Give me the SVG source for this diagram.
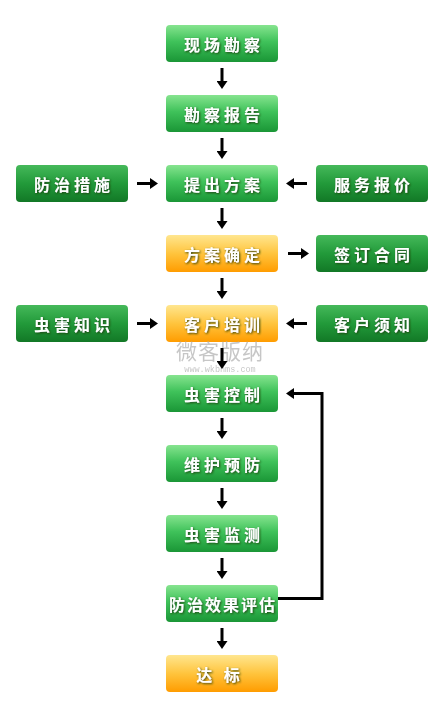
<svg xmlns="http://www.w3.org/2000/svg" width="438" height="708" viewBox="0 0 438 708">
<defs>
<linearGradient id="gc" x1="0" y1="0" x2="0" y2="1">
<stop offset="0" stop-color="#86e48f"/><stop offset="0.45" stop-color="#3fc25a"/><stop offset="1" stop-color="#1a9636"/>
</linearGradient>
<linearGradient id="gs" x1="0" y1="0" x2="0" y2="1">
<stop offset="0" stop-color="#45b95a"/><stop offset="0.5" stop-color="#229a3a"/><stop offset="1" stop-color="#127826"/>
</linearGradient>
<linearGradient id="go" x1="0" y1="0" x2="0" y2="1">
<stop offset="0" stop-color="#ffe68f"/><stop offset="0.5" stop-color="#ffc43d"/><stop offset="1" stop-color="#ff9c00"/>
</linearGradient>
<filter id="ts" x="-20%" y="-40%" width="140%" height="180%">
<feDropShadow dx="1" dy="1" stdDeviation="0.8" flood-color="#1a3a10" flood-opacity="0.9"/>
</filter>
<marker id="ah" viewBox="0 0 8 11" refX="2" refY="5.5" markerWidth="8" markerHeight="11" orient="auto" markerUnits="userSpaceOnUse">
<path d="M0,0 L8,5.5 L0,11 z" fill="#000"/>
</marker>
</defs>
<style>
.c{fill:url(#gc)}
.s{fill:url(#gs)}
.o{fill:url(#go)}
text.t{font-family:"Noto Sans CJK SC","Noto Sans CJK JP",sans-serif;font-size:16px;font-weight:bold;fill:#fff;text-anchor:middle;dominant-baseline:central;letter-spacing:4px;filter:url(#ts)}
.cn path{fill:none;stroke:#000;stroke-width:3;marker-end:url(#ah)}
</style>
<rect width="438" height="708" fill="#fff"/>

<g id="n1"><rect class="c" x="166" y="25" width="112" height="37" rx="4"/><text class="t" x="224" y="43.5">现场勘察</text></g>
<g id="n2"><rect class="c" x="166" y="95" width="112" height="37" rx="4"/><text class="t" x="224" y="113.5">勘察报告</text></g>
<g id="n3"><rect class="c" x="166" y="165" width="112" height="37" rx="4"/><text class="t" x="224" y="183.5">提出方案</text></g>
<g id="n3l"><rect class="s" x="16" y="165" width="112" height="37" rx="4"/><text class="t" x="74" y="183.5">防治措施</text></g>
<g id="n3r"><rect class="s" x="316" y="165" width="112" height="37" rx="4"/><text class="t" x="374" y="183.5">服务报价</text></g>
<g id="n4"><rect class="o" x="166" y="235" width="112" height="37" rx="4"/><text class="t" x="224" y="253.5">方案确定</text></g>
<g id="n4r"><rect class="s" x="316" y="235" width="112" height="37" rx="4"/><text class="t" x="374" y="253.5">签订合同</text></g>
<g id="n5"><rect class="o" x="166" y="305" width="112" height="37" rx="4"/><text class="t" x="224" y="323.5">客户培训</text></g>
<g id="n5l"><rect class="s" x="16" y="305" width="112" height="37" rx="4"/><text class="t" x="74" y="323.5">虫害知识</text></g>
<g id="n5r"><rect class="s" x="316" y="305" width="112" height="37" rx="4"/><text class="t" x="374" y="323.5">客户须知</text></g>
<g id="n6"><rect class="c" x="166" y="375" width="112" height="37" rx="4"/><text class="t" x="224" y="393.5">虫害控制</text></g>
<g id="n7"><rect class="c" x="166" y="445" width="112" height="37" rx="4"/><text class="t" x="224" y="463.5">维护预防</text></g>
<g id="n8"><rect class="c" x="166" y="515" width="112" height="37" rx="4"/><text class="t" x="224" y="533.5">虫害监测</text></g>
<g id="n9"><rect class="c" x="166" y="585" width="112" height="37" rx="4"/><text class="t" x="223" y="603.5" style="letter-spacing:2px">防治效果评估</text></g>
<g id="n10"><rect class="o" x="166" y="655" width="112" height="37" rx="4"/><text class="t" x="220" y="673.5">达 标</text></g>

<g id="watermark" opacity="0.75">
<text x="220" y="359" font-family="'Noto Sans CJK SC',sans-serif" font-size="21" fill="#b4b4b4" text-anchor="middle" letter-spacing="1">微客版纳</text>
<text x="220" y="371.5" font-family="'Liberation Mono',monospace" font-size="8.5" fill="#b4b4b4" text-anchor="middle">www.wkbnms.com</text>
</g>

<g id="connectors" class="cn">
<path d="M222,68 V83"/>
<path d="M222,138 V153"/>
<path d="M222,208 V223"/>
<path d="M222,278 V293"/>
<path d="M222,348 V363"/>
<path d="M222,418 V433"/>
<path d="M222,488 V503"/>
<path d="M222,558 V573"/>
<path d="M222,628 V643"/>
<path d="M137,183.5 H152"/>
<path d="M307,183.5 H292"/>
<path d="M288,253.5 H303"/>
<path d="M137,323.5 H152"/>
<path d="M307,323.5 H292"/>
<path d="M278,598.5 H322 V393.5 H292"/>
</g>
</svg>
